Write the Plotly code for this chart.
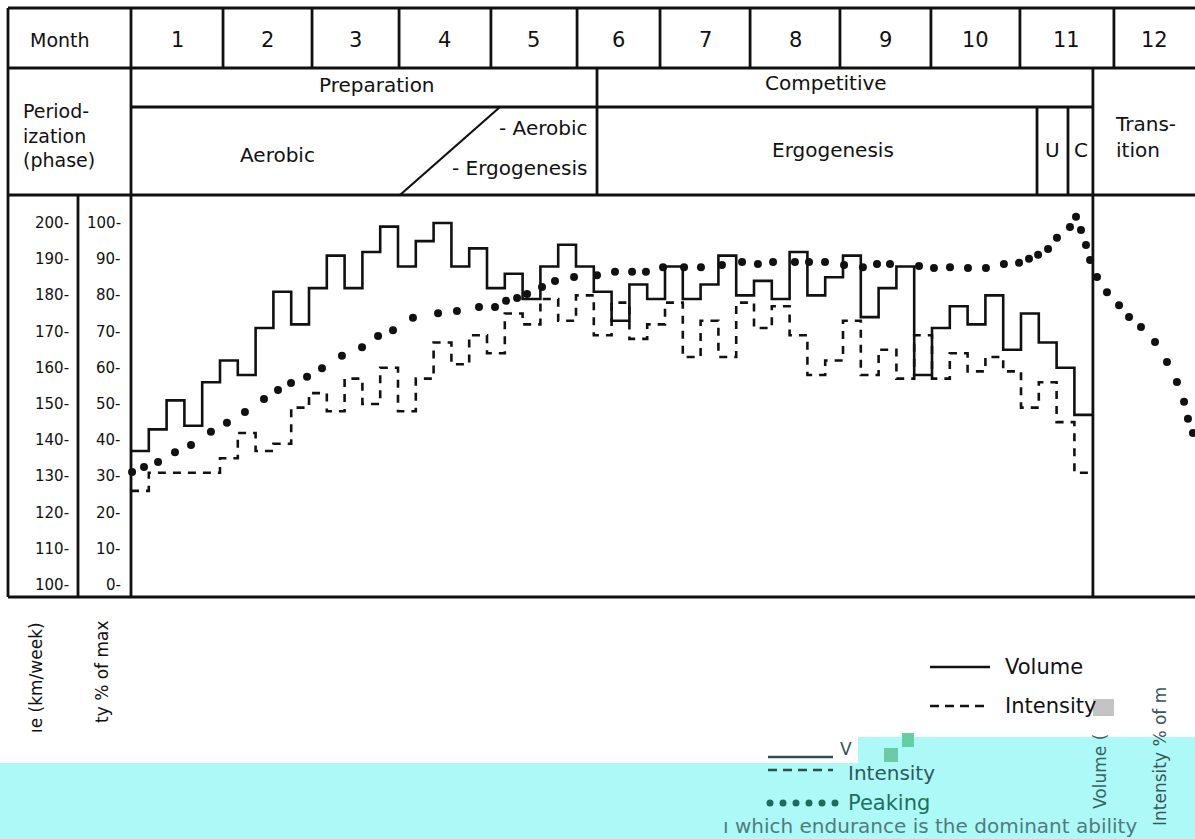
import plotly.graph_objects as go

# ---------------- data ----------------
weeks = list(range(54))
volume_km = [137, 143, 151, 144, 156, 162, 158, 171, 181, 172,
             182, 191, 182, 192, 199, 188, 195, 200, 188, 193,
             182, 186, 179, 188, 194, 188, 181, 173, 183, 179,
             188, 179, 183, 191, 180, 184, 179, 192, 180, 185,
             191, 174, 182, 188, 158, 171, 177, 172, 180, 165,
             175, 167, 160, 147]
intensity_pct = [26, 31, 31, 31, 31, 35, 42, 37, 39, 49,
                 53, 48, 57, 50, 60, 48, 57, 67, 61, 69,
                 64, 75, 72, 79, 73, 80, 69, 78, 68, 72,
                 78, 63, 73, 63, 78, 71, 77, 69, 58, 62,
                 73, 58, 65, 57, 69, 57, 64, 59, 63, 59,
                 49, 56, 45, 31]
peak_week = [0.06, 0.73, 1.52, 2.47, 3.37, 4.49, 5.39, 6.40, 7.47, 8.26,
             8.99, 9.89, 10.73, 11.85, 12.98, 13.88, 14.72, 15.84, 17.25, 18.31,
             19.55, 20.45, 21.07, 21.69, 22.25, 23.09, 23.82, 24.89, 26.18, 27.19,
             28.15, 28.93, 29.89, 31.07, 32.02, 33.20, 34.33, 35.22, 36.07, 37.30,
             38.09, 38.99, 40.06, 41.12, 41.91, 42.64, 44.27, 45.11, 46.01, 47.02,
             48.03, 49.04, 49.89, 50.45, 50.96, 51.52, 52.02, 52.75, 53.09, 53.37,
             53.65, 53.88, 54.27, 54.83, 55.51, 56.07, 56.74, 57.53, 58.20, 58.76,
             59.16, 59.38, 59.66]
peak_val = [31.2, 32.6, 34.0, 36.7, 38.7, 42.3, 44.8, 47.8, 51.4, 53.9,
            55.8, 57.5, 59.9, 63.3, 65.7, 68.8, 70.4, 73.8, 75.1, 75.7,
            76.8, 76.8, 78.5, 79.3, 80.4, 82.3, 84.0, 85.1, 85.6, 86.5,
            86.5, 86.5, 87.8, 87.8, 87.8, 88.4, 89.2, 88.7, 89.2, 89.2,
            89.2, 89.2, 88.4, 87.8, 88.7, 88.7, 88.1, 87.6, 87.8, 87.6,
            87.6, 88.7, 89.0, 90.1, 91.2, 92.8, 95.9, 98.9, 101.7, 98.1,
            93.9, 89.8, 85.1, 80.9, 77.3, 74.0, 71.3, 67.1, 61.6, 56.1,
            50.6, 45.9, 42.0]
month_labels = ["1", "2", "3", "4", "5", "6", "7", "8", "9", "10", "11", "12"]
month_edges = [0, 5.17, 10.17, 15.06, 20.22, 25.06, 29.72, 34.78, 39.83, 44.94, 49.94, 55.22]
prep_end, comp_end = 26.18, 54.04
diag_low, diag_high = 15.11, 20.73
u_start, c_start = 50.90, 52.64
vol_ticks = [200, 190, 180, 170, 160, 150, 140, 130, 120, 110, 100]
int_ticks = [100, 90, 80, 70, 60, 50, 40, 30, 20, 10, 0]

# ---------------- layout helpers ----------------
W, H = 1195, 839
PXW = 17.8          # pixels per week
X0 = 131            # pixel of week 0
INK = "#111111"
FONT = "DejaVu Sans"


def px(x):
    return x / W


def py(y):
    return 1 - y / H


vol_lo = 100 - (597 - 585) / 3.62
vol_hi = 100 + (585 - 195) / 3.62

fig = go.Figure()
xs = weeks + [len(weeks)]
fig.add_trace(go.Scatter(x=xs, y=volume_km + volume_km[-1:], mode="lines",
                         line=dict(shape="hv", color=INK, width=2.6),
                         yaxis="y", name="Volume", showlegend=False))
fig.add_trace(go.Scatter(x=xs, y=intensity_pct + intensity_pct[-1:], mode="lines",
                         line=dict(shape="hv", color=INK, width=2.6, dash="8px,7px"),
                         yaxis="y2", name="Intensity", showlegend=False))
fig.add_trace(go.Scatter(x=peak_week, y=peak_val, mode="markers",
                         marker=dict(size=8, color=INK),
                         yaxis="y2", name="Peaking", showlegend=False))

shapes = []


def line_p(x0, y0, x1, y1, w=2.8, color=INK, dash=None):
    d = dict(type="line", xref="paper", yref="paper", x0=px(x0), y0=py(y0),
             x1=px(x1), y1=py(y1), line=dict(color=color, width=w))
    if dash:
        d["line"]["dash"] = dash
    shapes.append(d)


def line_x(x0, y0, x1, y1, w=2.8):
    shapes.append(dict(type="line", xref="x", yref="paper", x0=x0, y0=py(y0),
                       x1=x1, y1=py(y1), line=dict(color=INK, width=w)))


def rect_p(x0, y0, x1, y1, color, layer="below"):
    shapes.append(dict(type="rect", xref="paper", yref="paper", x0=px(x0), y0=py(y0),
                       x1=px(x1), y1=py(y1), fillcolor=color, line=dict(width=0),
                       layer=layer))


# cyan scan artefact
rect_p(0, 763, W, H, "#adf9f8")
rect_p(858, 737, W, 763, "#adf9f8")
rect_p(902, 733, 914, 747, "#63cfa3", layer="above")
rect_p(884, 748, 898, 762, "#6ccaa6", layer="above")
rect_p(1093, 699, 1114, 716, "#c4c4c4", layer="above")

# table frame
for yy in (8, 68, 195, 597):
    line_p(8, yy, W, yy)
line_p(8, 8, 8, 597)
line_p(78, 195, 78, 597)
line_x(0, 8, 0, 597)
line_x(0, 107, comp_end, 107)
for e in month_edges[1:]:
    line_x(e, 8, e, 68)
line_x(prep_end, 68, prep_end, 195)
line_x(comp_end, 68, comp_end, 597)
line_x(u_start, 107, u_start, 195)
line_x(c_start, 107, c_start, 195)
line_x(diag_low, 195, diag_high, 107, w=2.2)

# legend samples
line_p(930, 667, 990, 667, w=2.6)
line_p(930, 706, 990, 706, w=2.6, dash="9px,6px")
# ghost legend in artefact
line_p(768, 757, 833, 757, w=2.4, color="#2f4f4f")
line_p(768, 770, 833, 770, w=2.4, color="#2f4f4f", dash="9px,6px")
for cx in (770, 783, 796, 809, 822, 835):
    shapes.append(dict(type="circle", xref="paper", yref="paper",
                       x0=px(cx - 3.5), x1=px(cx + 3.5), y0=py(803 + 3.5), y1=py(803 - 3.5),
                       fillcolor="#1f6b5b", line=dict(width=0)))

ann = []


def text(t, x, y, size=20, xanchor="center", color=INK, xref="paper", yref="paper",
         angle=0, yanchor="middle"):
    ann.append(dict(text=t, x=x, y=y, xref=xref, yref=yref, xanchor=xanchor,
                    yanchor=yanchor, showarrow=False, textangle=angle,
                    font=dict(family=FONT, size=size, color=color)))


text("Month", px(60), py(40), size=19)
for i, lab in enumerate(month_labels):
    right = month_edges[i + 1] if i + 1 < len(month_edges) else (W - X0) / PXW
    text(lab, (month_edges[i] + right) / 2, py(40), size=21, xref="x")
text("Preparation", px(377), py(85))
text("Competitive", px(826), py(83))
text("Aerobic", px(277), py(155))
text("- Aerobic", px(589), py(128), xanchor="right")
text("- Ergogenesis", px(589), py(168), xanchor="right")
text("Ergogenesis", px(833), py(150))
text("U", px(1052), py(150))
text("C", px(1081), py(150))
text("Trans-<br>ition", px(1113), py(137), size=20, xanchor="left")
ann[-1]["align"] = "left"
text("Period-<br>ization<br>(phase)", px(21), py(135), size=19, xanchor="left")
ann[-1]["align"] = "left"

for v in vol_ticks:
    text(f"{v}-", px(71), v, size=15, xanchor="right", yref="y")
for v in int_ticks:
    text(f"{v}-", px(123), v, size=15, xanchor="right", yref="y2")

text("ıe (km/week)", px(36), py(678), size=17, angle=-90)
text("ty % of max", px(102), py(672), size=17, angle=-90)

text("Volume", px(1003), py(667), size=21, xanchor="left")
text("Intensity", px(1003), py(706), size=21, xanchor="left")

# ghost texts inside the artefact
text("V", px(838), py(749), size=17, xanchor="left", color="#2f5555")
text("Intensity", px(846), py(773), size=20, xanchor="left", color="#2f5a5a")
text("Peaking", px(846), py(803), size=21, xanchor="left", color="#1e6f5e")
text("Volume (", px(1100), py(772), size=17, angle=-90, color="#3a6262")
text("Intensity % of m", px(1160), py(757), size=17, angle=-90, color="#3a5656")
text("ı which endurance is the dominant ability", px(930), py(826), size=20,
     color="#4f7c7c")

fig.update_layout(
    width=W, height=H,
    margin=dict(l=0, r=0, t=0, b=0),
    paper_bgcolor="white", plot_bgcolor="white",
    xaxis=dict(domain=[0, 1], range=[-X0 / PXW, (W - X0) / PXW], visible=False,
               showgrid=False, zeroline=False),
    yaxis=dict(domain=[py(597), py(195)], range=[vol_lo, vol_hi], visible=False,
               showgrid=False, zeroline=False),
    yaxis2=dict(overlaying="y", anchor="x", range=[vol_lo - 100, vol_hi - 100],
                visible=False, showgrid=False, zeroline=False),
    shapes=shapes,
    annotations=ann,
    showlegend=False,
)

fig.write_html("out.html", config={"displayModeBar": False},
               post_script="document.body.style.margin='0';document.body.style.overflow='hidden';")
